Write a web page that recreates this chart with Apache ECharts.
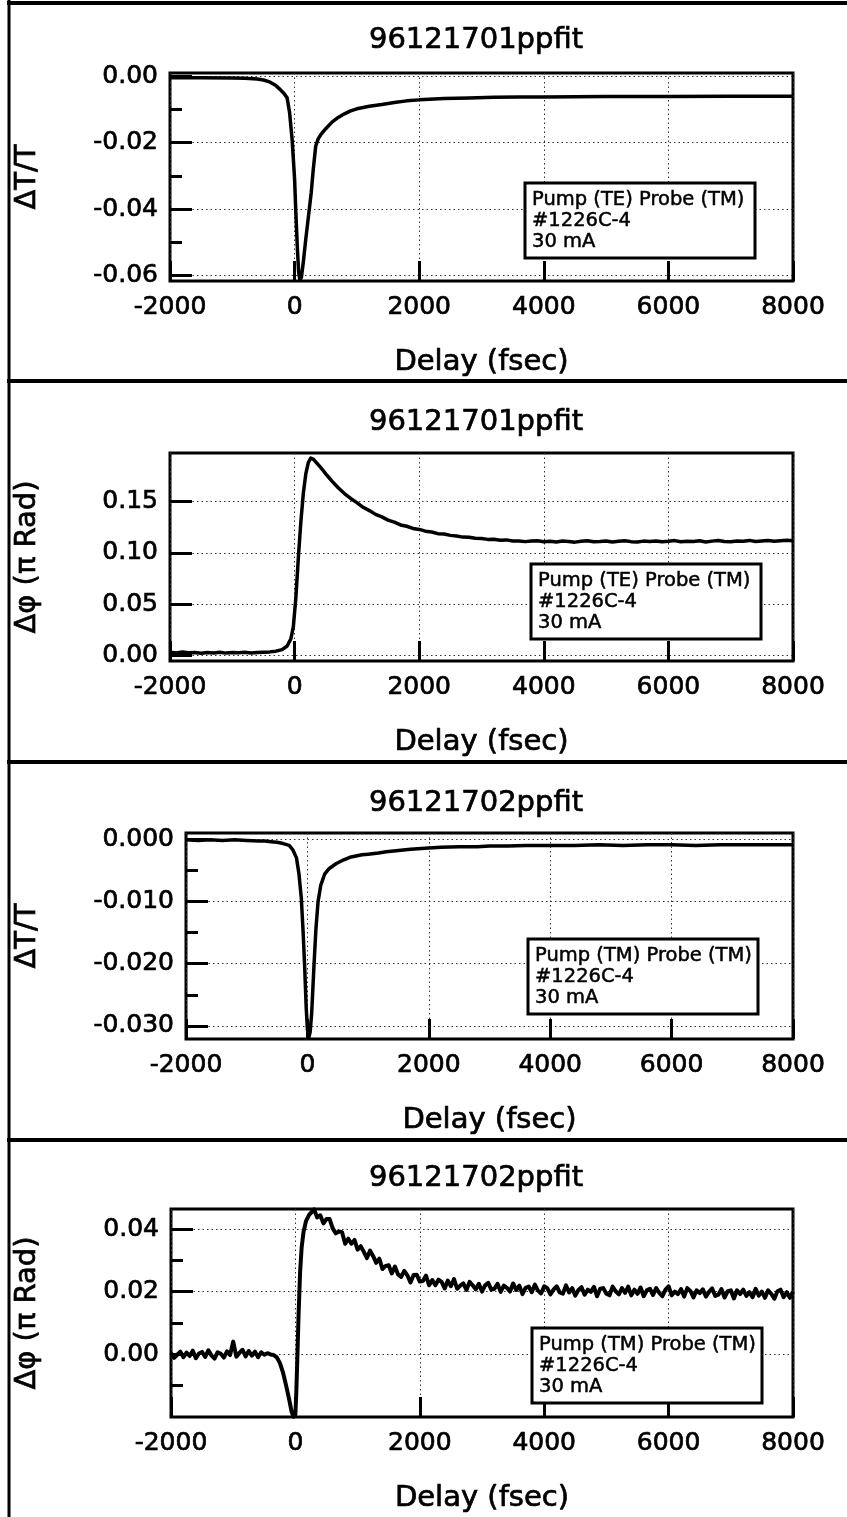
<!DOCTYPE html>
<html><head><meta charset="utf-8">
<script src="https://cdn.jsdelivr.net/npm/echarts@6/dist/echarts.min.js"></script>
<style>html,body{margin:0;padding:0;background:#fff}#c{width:847px;height:1517px}</style>
</head><body><div id="c"></div>
<script>
// ---------- text ----------
const titles = ['96121701ppfit', '96121701ppfit', '96121702ppfit', '96121702ppfit'];
const yNames = ['ΔT/T', 'Δφ (π Rad)', 'ΔT/T', 'Δφ (π Rad)'];
const xName = 'Delay (fsec)';
const notes = [
  ['Pump (TE) Probe (TM)', '#1226C-4', '30 mA'],
  ['Pump (TE) Probe (TM)', '#1226C-4', '30 mA'],
  ['Pump (TM) Probe (TM)', '#1226C-4', '30 mA'],
  ['Pump (TM) Probe (TM)', '#1226C-4', '30 mA']
];

// ---------- ticks ----------
const xTicks = [-2000, 0, 2000, 4000, 6000, 8000];
const yTicks1 = [-0.06, -0.04, -0.02, 0];
const yMinor1 = [-0.05, -0.03, -0.01];
const yTicks2 = [0, 0.05, 0.10, 0.15];
const yTicks3 = [-0.03, -0.02, -0.01, 0];
const yMinor3 = [-0.025, -0.015, -0.005];
const yTicks4 = [0, 0.02, 0.04];
const yMinor4 = [-0.01, 0.01, 0.03];

// ---------- data ----------
// Panel 1: ΔT/T, pump TE / probe TM
const delay1 = [-2000,-1500,-1000,-800,-600,-500,-400,-300,-230,-170,-120,-80,-40,0,20,45,65,85,110,140,180,230,267,300,339,380,420,500,600,700,800,900,1000,1200,1400,1600,1800,2000,2400,2800,3200,3600,4000,5000,6000,7000,8000];
const dT1 = [-0.0004,-0.0004,-0.0005,-0.0006,-0.0008,-0.0011,-0.0017,-0.0028,-0.0040,-0.0052,-0.0065,-0.0110,-0.0190,-0.0310,-0.0410,-0.0520,-0.0590,-0.0615,-0.0605,-0.0560,-0.0490,-0.0410,-0.0350,-0.0280,-0.0210,-0.0188,-0.0176,-0.0158,-0.0138,-0.0124,-0.0113,-0.0104,-0.0098,-0.0090,-0.0085,-0.0079,-0.0074,-0.0071,-0.0067,-0.0065,-0.0063,-0.0062,-0.0062,-0.0061,-0.0061,-0.0060,-0.0060];

// Panel 2: Δφ, pump TE / probe TM
const delay2 = [-2000,-1900,-1800,-1700,-1600,-1500,-1400,-1300,-1200,-1100,-1000,-900,-800,-700,-600,-500,-400,
  -300,-200,-120,-60,-20,20,60,100,140,180,220,260,300,350,400,450,500,550,600,700,800,900,
  1000,1100,1200,1300,1400,1500,1600,1700,1800,1900,2000,2100,2200,2300,2400,2500,2600,2700,2800,2900,3000,3100,3200,3300,3400,3500,
  3600,3700,3800,3900,4000,4100,4200,4300,4400,4500,4600,4700,4800,4900,5000,5100,5200,5300,5400,5500,5600,5700,5800,5900,6000,
  6100,6200,6300,6400,6500,6600,6700,6800,6900,7000,7100,7200,7300,7400,7500,7600,7700,7800,7900,8000];
const dPhi2 = [0.0030,0.0022,0.0031,0.0024,0.0028,0.0020,0.0027,0.0023,0.0030,0.0021,0.0026,0.0024,0.0029,0.0022,0.0027,0.0030,0.0033,
  0.0040,0.0055,0.0090,0.0160,0.0280,0.0560,0.0950,0.1300,0.1580,0.1770,0.1880,0.1925,0.1915,0.1880,0.1845,0.1810,0.1770,0.1735,0.1700,0.1635,0.1578,0.1530,
  0.1490,0.1444,0.1412,0.1375,0.1351,0.1319,0.1299,0.1272,0.1259,0.1238,0.1228,0.1211,0.1203,0.1187,0.1183,0.1170,0.1163,0.1153,0.1151,0.1141,0.1140,0.1131,0.1133,0.1122,0.1126,0.1116,
  0.1116,0.1109,0.1114,0.1118,0.1108,0.1112,0.1106,0.1115,0.1111,0.1104,0.1113,0.1117,0.1107,0.1110,0.1115,0.1105,0.1112,0.1118,0.1109,0.1106,0.1114,0.1110,0.1116,0.1107,0.1112,
  0.1119,0.1108,0.1113,0.1110,0.1117,0.1106,0.1114,0.1120,0.1111,0.1108,0.1116,0.1113,0.1121,0.1110,0.1115,0.1119,0.1112,0.1117,0.1122,0.1118];

// Panel 3: ΔT/T, pump TM / probe TM
const delay3 = [-2000,-1800,-1600,-1400,-1200,-1000,-800,-700,-600,-500,-400,-300,-240,-180,-140,-100,-70,-45,-20,0,20,45,70,90,110,140,176,220,284,360,477,600,700,800,900,1000,1170,1300,1500,1700,2000,2200,2500,2800,3000,3300,3600,4000,4400,4800,5200,5600,6000,6400,6800,7200,7600,8000];
const dT3 = [-0.0001,-0.0002,-0.0001,-0.0002,-0.0001,-0.0002,-0.0003,-0.0003,-0.0004,-0.0005,-0.0007,-0.0010,-0.0017,-0.0030,-0.0055,-0.0095,-0.0150,-0.0205,-0.0270,-0.0305,-0.0320,-0.0310,-0.0280,-0.0240,-0.0200,-0.0145,-0.0100,-0.0074,-0.0056,-0.0047,-0.0039,-0.0033,-0.0029,-0.0027,-0.0025,-0.0024,-0.0022,-0.0020,-0.0018,-0.0016,-0.0014,-0.0013,-0.0012,-0.0012,-0.0011,-0.0011,-0.0010,-0.0010,-0.0010,-0.0009,-0.0010,-0.0009,-0.0009,-0.0010,-0.0009,-0.0009,-0.0009,-0.0009];

// Panel 4: Δφ, pump TM / probe TM (noisy)
const delay4 = [-2000,-1950,-1900,-1850,-1800,-1750,-1700,-1650,-1600,-1550,-1500,-1450,-1400,-1350,-1300,-1250,-1200,-1150,-1100,-1050,-1000,-950,-900,-850,-800,-750,-700,-650,-600,-550,-500,-450,-400,
  -350,-300,-250,-200,-150,-100,-60,-30,0,15,30,50,75,100,130,170,220,265,
  300,350,400,450,500,550,600,650,700,750,
  800,850,900,950,1000,1050,1100,1150,1200,1250,
  1300,1350,1400,1450,1500,1550,1600,1650,1700,1750,
  1800,1850,1900,1950,2000,2050,2100,2150,2200,2250,
  2300,2350,2400,2450,2500,2550,2600,2650,2700,2750,
  2800,2850,2900,2950,3000,3050,3100,3150,3200,3250,
  3300,3350,3400,3450,3500,3550,3600,3650,3700,3750,
  3800,3850,3900,3950,4000,4050,4100,4150,4200,4250,
  4300,4350,4400,4450,4500,4550,4600,4650,4700,4750,
  4800,4850,4900,4950,5000,5050,5100,5150,5200,5250,
  5300,5350,5400,5450,5500,5550,5600,5650,5700,5750,
  5800,5850,5900,5950,6000,6050,6100,6150,6200,6250,
  6300,6350,6400,6450,6500,6550,6600,6650,6700,6750,
  6800,6850,6900,6950,7000,7050,7100,7150,7200,7250,
  7300,7350,7400,7450,7500,7550,7600,7650,7700,7750,
  7800,7850,7900,7950,8000];
const dPhi4 = [0.0003,-0.0012,-0.0002,0.0008,-0.0010,0.0005,-0.0006,0.0011,-0.0013,0.0002,0.0007,-0.0009,0.0012,-0.0004,-0.0014,0.0006,0.0001,-0.0011,0.0009,-0.0003,0.0040,-0.0008,0.0004,0.0014,-0.0007,0.0010,-0.0005,0.0008,-0.0010,0.0006,-0.0002,0.0003,-0.0001,
  -0.0003,-0.0010,-0.0028,-0.0058,-0.0100,-0.0145,-0.0185,-0.0200,-0.0192,-0.0120,-0.0020,0.0120,0.0260,0.0340,0.0390,0.0425,0.0445,0.0455,
  0.0463,0.0437,0.0444,0.0418,0.0432,0.0432,0.0402,0.0386,0.0392,0.0390,
  0.0353,0.0369,0.0353,0.0365,0.0334,0.0345,0.0327,0.0307,0.0331,0.0313,
  0.0292,0.0305,0.0272,0.0282,0.0284,0.0258,0.0280,0.0255,0.0247,0.0266,
  0.0252,0.0229,0.0253,0.0254,0.0232,0.0234,0.0251,0.0220,0.0237,0.0220,
  0.0238,0.0231,0.0210,0.0235,0.0217,0.0240,0.0209,0.0219,0.0226,0.0205,
  0.0231,0.0220,0.0207,0.0225,0.0200,0.0220,0.0228,0.0206,0.0209,0.0225,
  0.0199,0.0219,0.0212,0.0200,0.0226,0.0205,0.0219,0.0192,0.0212,0.0216,
  0.0198,0.0222,0.0203,0.0194,0.0217,0.0211,0.0191,0.0206,0.0217,0.0197,
  0.0193,0.0220,0.0197,0.0211,0.0187,0.0205,0.0214,0.0190,0.0206,0.0199,
  0.0215,0.0185,0.0209,0.0211,0.0193,0.0188,0.0216,0.0201,0.0191,0.0211,
  0.0196,0.0216,0.0188,0.0206,0.0193,0.0213,0.0185,0.0204,0.0209,0.0189,
  0.0211,0.0196,0.0185,0.0206,0.0217,0.0188,0.0200,0.0192,0.0208,0.0184,
  0.0211,0.0202,0.0181,0.0204,0.0195,0.0207,0.0184,0.0199,0.0210,0.0186,
  0.0190,0.0208,0.0181,0.0201,0.0204,0.0178,0.0204,0.0192,0.0206,0.0186,
  0.0198,0.0182,0.0209,0.0187,0.0200,0.0180,0.0204,0.0193,0.0177,0.0201,
  0.0206,0.0182,0.0198,0.0180,0.0200];

// ---------- layout ----------
const F = '"DejaVu Sans", "Liberation Sans", sans-serif';
const panels = [
  {grid: {left: 170, top: 73, right: 54, height: 208}, range: [-0.0617, 0.001], ticks: yTicks1, minor: yMinor1, dec: 2, gap: 128, delay: delay1, val: dT1, lw: 3.5, titleY: 40, note: {x: 525, y: 183}},
  {grid: {left: 170, top: 453, right: 54, height: 208}, range: [-0.0056, 0.1974], ticks: yTicks2, minor: null, dec: 2, gap: 128, delay: delay2, val: dPhi2, lw: 3.5, titleY: 422, note: {x: 531, y: 564}},
  {grid: {left: 186, top: 833, right: 54, height: 206}, range: [-0.0321, 0.001], ticks: yTicks3, minor: yMinor3, dec: 3, gap: 144, delay: delay3, val: dT3, lw: 3.5, titleY: 803, note: {x: 528, y: 939}},
  {grid: {left: 171, top: 1209, right: 54, height: 208}, range: [-0.0201, 0.0464], ticks: yTicks4, minor: yMinor4, dec: 2, gap: 129, delay: delay4, val: dPhi4, lw: 4, titleY: 1178, note: {x: 532, y: 1328}}
];

const dotted = {color: '#333', width: 1, type: [1.5, 3]};
const heavy = {textBorderColor: '#000', textBorderWidth: 0.7};
const grid = [], xAxis = [], yAxis = [], series = [], graphic = [];

panels.forEach((p, i) => {
  grid.push(Object.assign({show: true, borderColor: '#000', borderWidth: 3, backgroundColor: 'transparent', containLabel: false, outerBoundsMode: 'none'}, p.grid));
  xAxis.push({
    type: 'value', gridIndex: i, min: -2000, max: 8000, interval: 2000,
    name: xName, nameLocation: 'middle', nameGap: 67,
    nameTextStyle: Object.assign({fontSize: 29, color: '#000', fontFamily: F}, heavy),
    axisLine: {show: false, onZero: false},
    axisTick: {show: true, inside: true, length: 20, lineStyle: {color: '#000', width: 3}},
    axisLabel: Object.assign({fontSize: 25, color: '#000', margin: 14, fontFamily: F, formatter: v => String(v)}, heavy),
    splitLine: {show: true, lineStyle: dotted}
  });
  yAxis.push({
    type: 'value', gridIndex: i, position: 'left', min: p.range[0], max: p.range[1],
    name: yNames[i], nameLocation: 'middle', nameGap: p.gap,
    nameTextStyle: Object.assign({fontSize: 29, color: '#000', fontFamily: F}, heavy),
    axisLine: {show: false, onZero: false},
    axisTick: {show: true, inside: true, length: 22, lineStyle: {color: '#000', width: 3}, customValues: p.ticks},
    axisLabel: Object.assign({customValues: p.ticks, fontSize: 25, color: '#000', margin: 12, fontFamily: F, formatter: v => v.toFixed(p.dec)}, heavy),
    splitLine: {show: true, lineStyle: dotted}
  });
  series.push({
    type: 'line', xAxisIndex: i, yAxisIndex: i, showSymbol: false, symbol: 'none', silent: true,
    lineStyle: {color: '#000', width: p.lw, join: 'round'}, data: p.delay.map((d, k) => [d, p.val[k]])
  });
  graphic.push({type: 'text', z: 100, x: 476, y: p.titleY, style: {text: titles[i], font: '29px ' + F, fill: '#000', stroke: '#000', lineWidth: 0.7, align: 'center', verticalAlign: 'middle', textAlign: 'center', textVerticalAlign: 'middle'}});
  graphic.push({type: 'rect', z: 100, shape: {x: p.note.x, y: p.note.y, width: 230, height: 75}, style: {fill: '#fff', stroke: '#000', lineWidth: 3}});
  graphic.push({type: 'text', z: 101, x: p.note.x + 7, y: p.note.y + 6, style: {text: notes[i].join('\n'), font: '19.5px ' + F, lineHeight: 21, fill: '#000', stroke: '#000', lineWidth: 0.5, align: 'left', verticalAlign: 'top', textAlign: 'left', textVerticalAlign: 'top'}});
});

// minor-tick axes (same scale, shorter ticks)
panels.forEach((p, i) => {
  if (!p.minor) return;
  yAxis.push({
    type: 'value', gridIndex: i, position: 'left', offset: 0, min: p.range[0], max: p.range[1],
    axisLine: {show: false, onZero: false},
    axisTick: {show: true, inside: true, length: 12, lineStyle: {color: '#000', width: 3}, customValues: p.minor},
    axisLabel: {show: false}, splitLine: {show: false}
  });
});

// panel frame lines
[3, 381, 762, 1140].forEach(y => graphic.push({type: 'line', z: 90, shape: {x1: 7, y1: y, x2: 847, y2: y}, style: {stroke: '#000', lineWidth: 4}}));
graphic.push({type: 'line', z: 90, shape: {x1: 9, y1: 0, x2: 9, y2: 1517}, style: {stroke: '#000', lineWidth: 3}});

const chart = echarts.init(document.getElementById('c'), null, {renderer: 'canvas'});
chart.setOption({
  animation: false,
  backgroundColor: '#fff',
  textStyle: {fontFamily: F, color: '#000'},
  grid, xAxis, yAxis, series, graphic
});
</script></body></html>
